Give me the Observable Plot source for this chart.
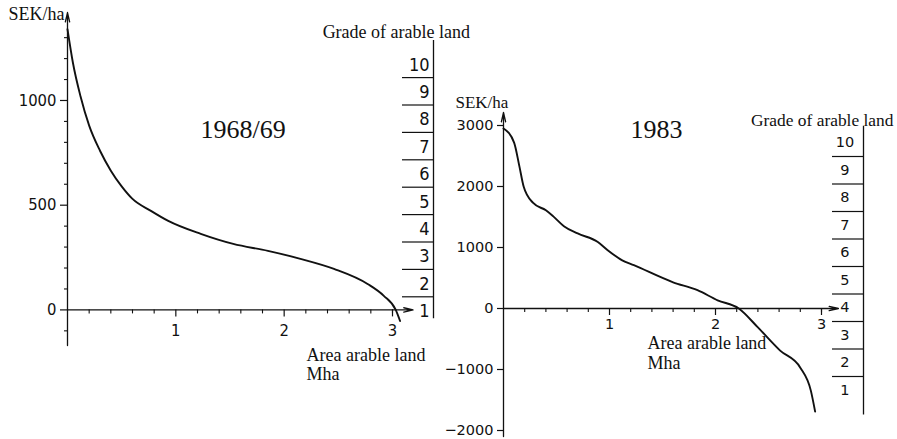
<!DOCTYPE html>
<html><head><meta charset="utf-8">
<script src="https://cdn.jsdelivr.net/npm/d3@7"></script>
<script src="https://cdn.jsdelivr.net/npm/@observablehq/plot@0.6"></script>
<style>
body{margin:0;background:#fff;}
#chart{position:relative;width:897px;height:439px;overflow:hidden;background:#fff;}
#chart svg{position:absolute;left:0;top:0;}
</style></head><body><div id="chart"></div>
<script>
// ---- data ----
const area6869 = [0, 0.05, 0.12, 0.20, 0.30, 0.40, 0.50, 0.60, 0.77, 0.93, 1.23, 1.53, 1.85, 2.15, 2.46, 2.77, 2.92, 3.03, 3.07];
const sek6869  = [1340, 1180, 1020, 880, 760, 665, 590, 530, 473, 425, 363, 315, 282, 244, 196, 124, 67, 0, -53];
const area1983 = [0, 0.10, 0.15, 0.19, 0.28, 0.40, 0.47, 0.57, 0.70, 0.89, 0.98, 1.12, 1.23, 1.60, 1.83, 2.02, 2.22, 2.40, 2.61, 2.80, 2.90, 2.94];
const sek1983  = [2950, 2720, 2330, 2000, 1730, 1610, 1510, 1350, 1230, 1090, 960, 790, 710, 430, 300, 135, 0, -310, -690, -970, -1350, -1690];
const yTicks6869 = [0, 500, 1000];
const yMinor6869 = [-100, 100, 200, 300, 400, 600, 700, 800, 900, 1100, 1200, 1300];
const yTicks1983 = [-2000, -1000, 0, 1000, 2000, 3000];
const xTicks = [1, 2, 3];
const xMinor = [0.2, 0.4, 0.6, 0.8, 1.2, 1.4, 1.6, 1.8, 2.2, 2.4, 2.6, 2.8, 3.0];
const grades = [1, 2, 3, 4, 5, 6, 7, 8, 9, 10];
const gradeBounds = [1.5, 2.5, 3.5, 4.5, 5.5, 6.5, 7.5, 8.5, 9.5];
const panelTitles = ["1968/69", "1983"];
const yLabel = "SEK/ha";
const xLabel = "Area arable land\nMha";
const gradeLabel = "Grade of arable land";

// ---- styling ----
const W = 897, H = 439;
const ink = "#111";
const serif = "'Liberation Serif', 'DejaVu Serif', serif";
const narrow = "'DejaVu Sans Condensed', 'DejaVu Sans', sans-serif";
const wide = "'DejaVu Sans', Verdana, sans-serif";
const fmt = d => d < 0 ? "\u2212" + Math.abs(d) : String(d);
const svgStyle = {background: "transparent", overflow: "visible", color: ink};
const chart = document.getElementById("chart");

const tbl6869 = area6869.map((a, i) => ({a, v: sek6869[i]}));
const tbl1983 = area1983.map((a, i) => ({a, v: sek1983[i]}));

// ---- left panel 1968/69 ----
const left = Plot.plot({
  width: W, height: H,
  marginLeft: 67, marginRight: W - 392, marginTop: 20.4, marginBottom: H - 345,
  x: {domain: [0, 3], axis: null},
  y: {domain: [-170, 1380], axis: null},
  style: svgStyle,
  marks: [
    Plot.arrow([0], {x1: 0, y1: -170, x2: 0, y2: 1420, stroke: ink, strokeWidth: 1.3, headLength: 11, headAngle: 26}),
    Plot.arrow([0], {x1: 0, y1: 0, x2: 3.19, y2: 0, stroke: ink, strokeWidth: 1.3, headLength: 11, headAngle: 26}),
    Plot.axisY(yTicks6869, {tickSize: 7, tickPadding: 4, tickFormat: fmt, fontSize: 16.5, fontFamily: narrow, label: null, strokeWidth: 1.2}),
    Plot.axisY(yMinor6869, {tickSize: 3, tickFormat: () => "", label: null, strokeWidth: 1.1}),
    Plot.ruleX(xMinor, {x: d => d, y1: 0, y2: 0, insetBottom: -4, stroke: ink, strokeWidth: 1.1}),
    Plot.ruleX(xTicks, {x: d => d, y1: 0, y2: 0, insetBottom: -7, stroke: ink, strokeWidth: 1.2}),
    Plot.text(xTicks, {x: d => d, y: 0, text: fmt, dy: 21, lineAnchor: "middle", fontSize: 16.5, fontFamily: narrow, fill: ink}),
    Plot.line(tbl6869, {x: "a", y: "v", curve: "monotone-x", stroke: ink, strokeWidth: 1.9}),
    Plot.text([yLabel], {x: 0, y: 1383, dx: -3, textAnchor: "end", lineAnchor: "bottom", fontFamily: serif, fontSize: 18, fill: ink}),
    Plot.text([gradeLabel], {x: 2.355, y: 1297, textAnchor: "start", lineAnchor: "bottom", fontFamily: serif, fontSize: 18, fill: ink}),
    Plot.text([panelTitles[0]], {x: 1.228, y: 820, textAnchor: "start", lineAnchor: "bottom", fontFamily: serif, fontSize: 26, fill: ink}),
    Plot.text([xLabel], {x: 2.207, y: -337, textAnchor: "start", lineAnchor: "bottom", lineHeight: 1.11, fontFamily: serif, fontSize: 18, fill: ink})
  ]
});
chart.appendChild(left);

const gradeLeft = Plot.plot({
  width: W, height: H,
  marginLeft: 402, marginRight: W - 433, marginTop: 63.4, marginBottom: H - 310,
  x: {domain: [0, 1], axis: null},
  y: {domain: [1, 10], axis: null},
  style: svgStyle,
  marks: [
    Plot.ruleX([1], {x: d => d, y1: 0.7, y2: 10.85, stroke: ink, strokeWidth: 1.3}),
    Plot.ruleY(gradeBounds, {y: d => d, x1: 0, x2: 1, stroke: ink, strokeWidth: 1.2}),
    Plot.text(grades, {x: 1, y: d => d, text: fmt, textAnchor: "end", dx: -4, dy: 1, lineAnchor: "middle", fontSize: 18, fontFamily: narrow, fill: ink})
  ]
});
chart.appendChild(gradeLeft);

// ---- right panel 1983 ----
const right = Plot.plot({
  width: W, height: H,
  marginLeft: 503, marginRight: W - 821, marginTop: 112.8, marginBottom: H - 436.1,
  x: {domain: [0, 3], axis: null},
  y: {domain: [-2100, 3200], axis: null},
  style: svgStyle,
  marks: [
    Plot.arrow([0], {x1: 0, y1: -2100, x2: 0, y2: 3213, stroke: ink, strokeWidth: 1.3, headLength: 11, headAngle: 26}),
    Plot.arrow([0], {x1: 0, y1: 0, x2: 3.16, y2: 0, stroke: ink, strokeWidth: 1.3, headLength: 11, headAngle: 26}),
    Plot.axisY(yTicks1983, {tickSize: 6, tickPadding: 4, tickFormat: fmt, fontSize: 14.5, fontFamily: wide, label: null, strokeWidth: 1.2}),
    Plot.ruleX(xMinor, {x: d => d, y1: 0, y2: 0, insetBottom: -4, stroke: ink, strokeWidth: 1.1}),
    Plot.ruleX(xTicks, {x: d => d, y1: 0, y2: 0, insetBottom: -7, stroke: ink, strokeWidth: 1.2}),
    Plot.text(xTicks, {x: d => d, y: 0, text: fmt, dy: 16, lineAnchor: "middle", fontSize: 14.5, fontFamily: wide, fill: ink}),
    Plot.line(tbl1983, {x: "a", y: "v", curve: "monotone-x", stroke: ink, strokeWidth: 1.9}),
    Plot.text([yLabel], {x: -0.453, y: 3295, textAnchor: "start", lineAnchor: "bottom", fontFamily: serif, fontSize: 17, fill: ink}),
    Plot.text([gradeLabel], {x: 2.335, y: 3000, textAnchor: "start", lineAnchor: "bottom", fontFamily: serif, fontSize: 17.4, fill: ink}),
    Plot.text([panelTitles[1]], {x: 1.198, y: 2803, textAnchor: "start", lineAnchor: "bottom", fontFamily: serif, fontSize: 26, fill: ink}),
    Plot.text([xLabel], {x: 1.358, y: -984, textAnchor: "start", lineAnchor: "bottom", lineHeight: 1.11, fontFamily: serif, fontSize: 18, fill: ink})
  ]
});
chart.appendChild(right);

const gradeRight = Plot.plot({
  width: W, height: H,
  marginLeft: 832, marginRight: W - 863, marginTop: 142.25, marginBottom: H - 389.75,
  x: {domain: [0, 1], axis: null},
  y: {domain: [1, 10], axis: null},
  style: svgStyle,
  marks: [
    Plot.ruleX([1], {x: d => d, y1: 0.1, y2: 10.6, stroke: ink, strokeWidth: 1.3}),
    Plot.ruleY(gradeBounds, {y: d => d, x1: 0, x2: 1, stroke: ink, strokeWidth: 1.2}),
    Plot.text(grades, {x: 0.4, y: d => d, text: fmt, textAnchor: "middle", lineAnchor: "middle", fontSize: 14.5, fontFamily: wide, fill: ink})
  ]
});
chart.appendChild(gradeRight);
</script></body></html>
